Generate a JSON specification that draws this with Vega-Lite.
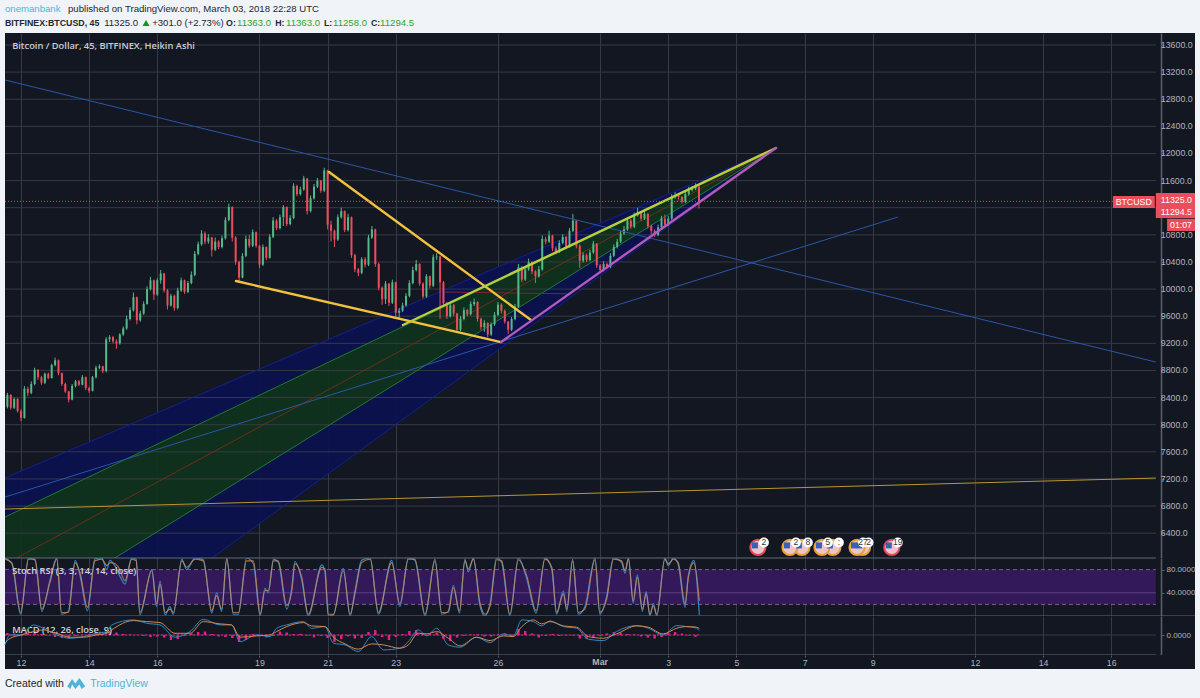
{
"$schema":"https://vega.github.io/schema/vega-lite/v6.json",
"background":"#f0f3f7",
"padding":{"left":3,"right":7,"top":0,"bottom":0},
"spacing":0,
"bounds":"flush",
"resolve":{"scale":{"color":"independent","stroke":"independent"}},
"config":{"view":{"stroke":null},"font":"Liberation Sans","axis":{"labelFont":"Liberation Sans"}},
"datasets":{
"header":[
{"text":"onemanbank","role":"author","line":"publisher","d":11.53},
{"text":"published on TradingView.com, March 03, 2018 22:28 UTC","role":"meta","line":"publisher","d":13.38},
{"text":"BITFINEX:BTCUSD, 45","role":"label","line":"quote","d":11.53},
{"text":"11325.0","role":"meta","line":"quote","d":14.44},
{"text":"+301.0 (+2.73%)","role":"meta","line":"quote","d":15.85},
{"text":"O:","role":"label","line":"quote","d":18.02},
{"text":"11363.0","role":"up","line":"quote","d":18.34},
{"text":"H:","role":"label","line":"quote","d":19.46},
{"text":"11363.0","role":"up","line":"quote","d":19.78},
{"text":"L:","role":"label","line":"quote","d":20.89},
{"text":"11258.0","role":"up","line":"quote","d":21.16},
{"text":"C:","role":"label","line":"quote","d":22.27},
{"text":"11294.5","role":"up","line":"quote","d":22.54}
],
"arrow":[{"line":"quote","d":15.67}],
"bands":[
{"band":"upper","d":11.53,"hi":7213,"lo":6638},{"band":"upper","d":34.16,"hi":12081,"lo":12081},
{"band":"middle","d":11.53,"hi":6638,"lo":5030},{"band":"middle","d":34.16,"hi":12081,"lo":12081},
{"band":"lower","d":11.53,"hi":5030,"lo":3813},{"band":"lower","d":34.16,"hi":12081,"lo":12081}
],
"pricegrid":[{"p":6400,"from":11.53,"to":45.31},{"p":6800,"from":11.53,"to":45.31},{"p":7200,"from":11.53,"to":45.31},{"p":7600,"from":11.53,"to":45.31},{"p":8000,"from":11.53,"to":45.31},{"p":8400,"from":11.53,"to":45.31},{"p":8800,"from":11.53,"to":45.31},{"p":9200,"from":11.53,"to":45.31},{"p":9600,"from":11.53,"to":45.31},{"p":10000,"from":11.53,"to":45.31},{"p":10400,"from":11.53,"to":45.31},{"p":10800,"from":11.53,"to":45.31},{"p":11200,"from":11.53,"to":45.31},{"p":11600,"from":11.53,"to":45.31},{"p":12000,"from":11.53,"to":45.31},{"p":12400,"from":11.53,"to":45.31},{"p":12800,"from":11.53,"to":45.31},{"p":13200,"from":11.53,"to":45.31},{"p":13600,"from":11.53,"to":45.31}],
"trend":[
{"name":"fan blue","d0":11.53,"p0":7213,"d1":34.16,"p1":12081},
{"name":"fan blue","d0":11.53,"p0":3813,"d1":34.16,"p1":12081},
{"name":"fan green","d0":11.53,"p0":6638,"d1":34.16,"p1":12081},
{"name":"fan green","d0":11.53,"p0":5030,"d1":34.16,"p1":12081},
{"name":"median","d0":11.53,"p0":5940,"d1":34.16,"p1":12081},
{"name":"dark red","d0":24.44,"p0":9957,"d1":28.03,"p1":9930},
{"name":"long blue","d0":11.53,"p0":13084,"d1":45.31,"p1":8924},
{"name":"long blue","d0":11.53,"p0":6933,"d1":37.74,"p1":11063},
{"name":"thin yellow","d0":11.53,"p0":6756,"d1":45.31,"p1":7213},
{"name":"wedge","d0":21.04,"p0":11727,"d1":26.97,"p1":9544},
{"name":"wedge","d0":18.31,"p0":10119,"d1":26.09,"p1":9219},
{"name":"lime","d0":23.21,"p0":9470,"d1":34.16,"p1":12081},
{"name":"purple","d0":26.09,"p0":9219,"d1":34.16,"p1":12081}
],
"candles":[
{"d":11.6,"o":8265,"c":8440,"h":8470,"l":8240},{"d":11.7,"o":8440,"c":8250,"h":8450,"l":8220},{"d":11.8,"o":8250,"c":8380,"h":8400,"l":8230},{"d":11.9,"o":8380,"c":8200,"h":8390,"l":8180},
{"d":12.0,"o":8200,"c":8100,"h":8230,"l":8050},{"d":12.1,"o":8100,"c":8530,"h":8570,"l":8090},{"d":12.2,"o":8530,"c":8470,"h":8560,"l":8420},{"d":12.3,"o":8470,"c":8600,"h":8640,"l":8450},
{"d":12.4,"o":8600,"c":8810,"h":8840,"l":8580},{"d":12.5,"o":8810,"c":8700,"h":8820,"l":8660},{"d":12.6,"o":8700,"c":8620,"h":8720,"l":8590},{"d":12.7,"o":8620,"c":8750,"h":8770,"l":8600},
{"d":12.8,"o":8750,"c":8690,"h":8770,"l":8670},{"d":12.9,"o":8690,"c":8880,"h":8900,"l":8680},{"d":13.0,"o":8880,"c":8950,"h":8990,"l":8860},{"d":13.1,"o":8950,"c":8760,"h":8960,"l":8730},
{"d":13.2,"o":8760,"c":8600,"h":8770,"l":8570},{"d":13.3,"o":8600,"c":8490,"h":8620,"l":8470},{"d":13.4,"o":8490,"c":8370,"h":8500,"l":8330},{"d":13.5,"o":8370,"c":8570,"h":8600,"l":8360},
{"d":13.6,"o":8570,"c":8640,"h":8660,"l":8550},{"d":13.7,"o":8640,"c":8590,"h":8660,"l":8570},{"d":13.8,"o":8590,"c":8700,"h":8730,"l":8580},{"d":13.9,"o":8700,"c":8540,"h":8710,"l":8510},
{"d":14.0,"o":8540,"c":8500,"h":8560,"l":8470},{"d":14.1,"o":8500,"c":8700,"h":8720,"l":8490},{"d":14.2,"o":8700,"c":8840,"h":8870,"l":8680},{"d":14.3,"o":8840,"c":8860,"h":8890,"l":8820},
{"d":14.4,"o":8860,"c":8790,"h":8870,"l":8760},{"d":14.5,"o":8790,"c":9260,"h":9290,"l":8770},{"d":14.6,"o":9260,"c":9290,"h":9320,"l":9220},{"d":14.7,"o":9290,"c":9230,"h":9310,"l":9200},
{"d":14.8,"o":9230,"c":9200,"h":9260,"l":9120},{"d":14.9,"o":9200,"c":9330,"h":9350,"l":9180},{"d":15.0,"o":9330,"c":9420,"h":9450,"l":9310},{"d":15.1,"o":9420,"c":9560,"h":9610,"l":9400},
{"d":15.2,"o":9560,"c":9690,"h":9730,"l":9540},{"d":15.3,"o":9690,"c":9880,"h":9950,"l":9670},{"d":15.4,"o":9880,"c":9540,"h":9890,"l":9480},{"d":15.5,"o":9540,"c":9640,"h":9680,"l":9520},
{"d":15.6,"o":9640,"c":9780,"h":9820,"l":9620},{"d":15.7,"o":9780,"c":10000,"h":10040,"l":9770},{"d":15.8,"o":10000,"c":10130,"h":10180,"l":9980},{"d":15.9,"o":10130,"c":9920,"h":10140,"l":9840},
{"d":16.0,"o":9920,"c":10130,"h":10160,"l":9900},{"d":16.1,"o":10130,"c":10230,"h":10280,"l":10080},{"d":16.2,"o":10230,"c":9980,"h":10240,"l":9950},{"d":16.3,"o":9980,"c":9760,"h":10000,"l":9700},
{"d":16.4,"o":9760,"c":9900,"h":9930,"l":9740},{"d":16.5,"o":9900,"c":9720,"h":9920,"l":9680},{"d":16.6,"o":9720,"c":9980,"h":10020,"l":9700},{"d":16.7,"o":9980,"c":10130,"h":10170,"l":9960},
{"d":16.8,"o":10130,"c":9960,"h":10140,"l":9930},{"d":16.9,"o":9960,"c":10090,"h":10120,"l":9940},{"d":17.0,"o":10090,"c":10210,"h":10260,"l":10070},{"d":17.1,"o":10210,"c":10520,"h":10560,"l":10190},
{"d":17.2,"o":10520,"c":10660,"h":10700,"l":10500},{"d":17.3,"o":10660,"c":10820,"h":10870,"l":10640},{"d":17.4,"o":10820,"c":10700,"h":10850,"l":10660},{"d":17.5,"o":10700,"c":10760,"h":10810,"l":10670},
{"d":17.6,"o":10760,"c":10580,"h":10770,"l":10480},{"d":17.7,"o":10580,"c":10700,"h":10760,"l":10560},{"d":17.8,"o":10700,"c":10620,"h":10720,"l":10590},{"d":17.9,"o":10620,"c":10750,"h":10790,"l":10600},
{"d":18.0,"o":10750,"c":11020,"h":11060,"l":10730},{"d":18.1,"o":11020,"c":11210,"h":11260,"l":11000},{"d":18.2,"o":11210,"c":10760,"h":11220,"l":10700},{"d":18.3,"o":10760,"c":10400,"h":10780,"l":10360},
{"d":18.4,"o":10400,"c":10170,"h":10420,"l":10120},{"d":18.5,"o":10170,"c":10490,"h":10530,"l":10160},{"d":18.6,"o":10490,"c":10740,"h":10790,"l":10470},{"d":18.7,"o":10740,"c":10640,"h":10800,"l":10610},
{"d":18.8,"o":10640,"c":10840,"h":10880,"l":10620},{"d":18.9,"o":10840,"c":10640,"h":10850,"l":10610},{"d":19.0,"o":10640,"c":10360,"h":10650,"l":10310},{"d":19.1,"o":10360,"c":10620,"h":10660,"l":10340},
{"d":19.2,"o":10620,"c":10460,"h":10630,"l":10430},{"d":19.3,"o":10460,"c":10770,"h":10810,"l":10450},{"d":19.4,"o":10770,"c":11010,"h":11060,"l":10750},{"d":19.5,"o":11010,"c":10900,"h":11030,"l":10870},
{"d":19.6,"o":10900,"c":11060,"h":11100,"l":10880},{"d":19.7,"o":11060,"c":11210,"h":11240,"l":10930},{"d":19.8,"o":11210,"c":10960,"h":11220,"l":10930},{"d":19.9,"o":10960,"c":11050,"h":11090,"l":10940},
{"d":20.0,"o":11050,"c":11520,"h":11560,"l":11030},{"d":20.1,"o":11520,"c":11400,"h":11540,"l":11370},{"d":20.2,"o":11400,"c":11470,"h":11510,"l":11380},{"d":20.3,"o":11470,"c":11630,"h":11670,"l":11450},
{"d":20.4,"o":11630,"c":11150,"h":11640,"l":11100},{"d":20.5,"o":11150,"c":11340,"h":11380,"l":11130},{"d":20.6,"o":11340,"c":11510,"h":11550,"l":11320},{"d":20.7,"o":11510,"c":11600,"h":11640,"l":11490},
{"d":20.8,"o":11600,"c":11450,"h":11610,"l":11420},{"d":20.9,"o":11450,"c":11750,"h":11790,"l":11430},{"d":21.0,"o":11750,"c":10950,"h":11760,"l":10880},{"d":21.1,"o":10950,"c":10860,"h":11010,"l":10700},
{"d":21.2,"o":10860,"c":10730,"h":10880,"l":10620},{"d":21.3,"o":10730,"c":11060,"h":11100,"l":10710},{"d":21.4,"o":11060,"c":11150,"h":11200,"l":11040},{"d":21.5,"o":11150,"c":10870,"h":11160,"l":10840},
{"d":21.6,"o":10870,"c":11060,"h":11110,"l":10850},{"d":21.7,"o":11060,"c":10500,"h":11070,"l":10460},{"d":21.8,"o":10500,"c":10290,"h":10520,"l":10250},{"d":21.9,"o":10290,"c":10240,"h":10310,"l":10190},
{"d":22.0,"o":10240,"c":10440,"h":10470,"l":10220},{"d":22.1,"o":10440,"c":10360,"h":10470,"l":10320},{"d":22.2,"o":10360,"c":10760,"h":10800,"l":10340},{"d":22.3,"o":10760,"c":10880,"h":10930,"l":10740},
{"d":22.4,"o":10880,"c":10370,"h":10890,"l":10330},{"d":22.5,"o":10370,"c":10020,"h":10390,"l":9980},{"d":22.6,"o":10020,"c":9850,"h":10040,"l":9770},{"d":22.7,"o":9850,"c":10080,"h":10120,"l":9780},
{"d":22.8,"o":10080,"c":9800,"h":10090,"l":9750},{"d":22.9,"o":9800,"c":10100,"h":10140,"l":9780},{"d":23.0,"o":10100,"c":9650,"h":10110,"l":9590},{"d":23.1,"o":9650,"c":9680,"h":9720,"l":9560},
{"d":23.2,"o":9680,"c":9760,"h":9800,"l":9660},{"d":23.3,"o":9760,"c":9900,"h":9940,"l":9740},{"d":23.4,"o":9900,"c":10090,"h":10130,"l":9880},{"d":23.5,"o":10090,"c":10280,"h":10330,"l":10070},
{"d":23.6,"o":10280,"c":10370,"h":10430,"l":10260},{"d":23.7,"o":10370,"c":10080,"h":10380,"l":10050},{"d":23.8,"o":10080,"c":9890,"h":10100,"l":9860},{"d":23.9,"o":9890,"c":10190,"h":10220,"l":9870},
{"d":24.0,"o":10190,"c":10050,"h":10200,"l":10010},{"d":24.1,"o":10050,"c":10470,"h":10510,"l":10030},{"d":24.2,"o":10470,"c":10480,"h":10530,"l":10430},{"d":24.3,"o":10480,"c":10100,"h":10490,"l":9560},
{"d":24.4,"o":10100,"c":9790,"h":10120,"l":9740},{"d":24.5,"o":9790,"c":9600,"h":9810,"l":9560},{"d":24.6,"o":9600,"c":9760,"h":9800,"l":9580},{"d":24.7,"o":9760,"c":9640,"h":9780,"l":9600},
{"d":24.8,"o":9640,"c":9400,"h":9650,"l":9370},{"d":24.9,"o":9400,"c":9560,"h":9600,"l":9380},{"d":25.0,"o":9560,"c":9690,"h":9730,"l":9540},{"d":25.1,"o":9690,"c":9630,"h":9710,"l":9600},
{"d":25.2,"o":9630,"c":9780,"h":9820,"l":9610},{"d":25.3,"o":9780,"c":9810,"h":9860,"l":9750},{"d":25.4,"o":9810,"c":9560,"h":9820,"l":9520},{"d":25.5,"o":9560,"c":9440,"h":9580,"l":9400},
{"d":25.6,"o":9440,"c":9500,"h":9540,"l":9370},{"d":25.7,"o":9500,"c":9330,"h":9510,"l":9290},{"d":25.8,"o":9330,"c":9480,"h":9510,"l":9310},{"d":25.9,"o":9480,"c":9620,"h":9660,"l":9460},
{"d":26.0,"o":9620,"c":9770,"h":9810,"l":9600},{"d":26.1,"o":9770,"c":9680,"h":9790,"l":9640},{"d":26.2,"o":9680,"c":9520,"h":9700,"l":9490},{"d":26.3,"o":9520,"c":9400,"h":9530,"l":9340},
{"d":26.4,"o":9400,"c":9560,"h":9590,"l":9380},{"d":26.5,"o":9560,"c":9740,"h":9780,"l":9540},{"d":26.6,"o":9740,"c":10320,"h":10370,"l":9720},{"d":26.7,"o":10320,"c":10140,"h":10340,"l":10100},
{"d":26.8,"o":10140,"c":10290,"h":10330,"l":10120},{"d":26.9,"o":10290,"c":10400,"h":10450,"l":10270},{"d":27.0,"o":10400,"c":10260,"h":10410,"l":10220},{"d":27.1,"o":10260,"c":10190,"h":10280,"l":10090},
{"d":27.2,"o":10190,"c":10290,"h":10340,"l":10170},{"d":27.3,"o":10290,"c":10740,"h":10790,"l":10270},{"d":27.4,"o":10740,"c":10700,"h":10770,"l":10660},{"d":27.5,"o":10700,"c":10790,"h":10860,"l":10680},
{"d":27.6,"o":10790,"c":10600,"h":10800,"l":10560},{"d":27.7,"o":10600,"c":10550,"h":10630,"l":10510},{"d":27.8,"o":10550,"c":10680,"h":10720,"l":10530},{"d":27.9,"o":10680,"c":10770,"h":10810,"l":10660},
{"d":28.0,"o":10770,"c":10630,"h":10780,"l":10590},{"d":28.1,"o":10630,"c":10860,"h":10900,"l":10610},{"d":28.2,"o":10860,"c":11010,"h":11110,"l":10840},{"d":28.3,"o":11010,"c":10640,"h":11020,"l":10600},
{"d":28.4,"o":10640,"c":10420,"h":10660,"l":10310},{"d":28.5,"o":10420,"c":10500,"h":10540,"l":10390},{"d":28.6,"o":10500,"c":10430,"h":10520,"l":10400},{"d":28.7,"o":10430,"c":10540,"h":10580,"l":10410},
{"d":28.8,"o":10540,"c":10670,"h":10710,"l":10520},{"d":28.9,"o":10670,"c":10350,"h":10680,"l":10310},{"d":29.0,"o":10350,"c":10280,"h":10370,"l":10230},{"d":29.1,"o":10280,"c":10370,"h":10410,"l":10260},
{"d":29.2,"o":10370,"c":10330,"h":10390,"l":10300},{"d":29.3,"o":10330,"c":10490,"h":10530,"l":10310},{"d":29.4,"o":10490,"c":10620,"h":10660,"l":10470},{"d":29.5,"o":10620,"c":10700,"h":10740,"l":10600},
{"d":29.6,"o":10700,"c":10820,"h":10860,"l":10680},{"d":29.7,"o":10820,"c":10880,"h":10930,"l":10800},{"d":29.8,"o":10880,"c":11010,"h":11060,"l":10860},{"d":29.9,"o":11010,"c":10920,"h":11030,"l":10890},
{"d":30.0,"o":10920,"c":11090,"h":11130,"l":10900},{"d":30.1,"o":11090,"c":11140,"h":11200,"l":11070},{"d":30.2,"o":11140,"c":11040,"h":11150,"l":11010},{"d":30.3,"o":11040,"c":11110,"h":11160,"l":11020},
{"d":30.4,"o":11110,"c":10930,"h":11120,"l":10890},{"d":30.5,"o":10930,"c":10860,"h":10950,"l":10810},{"d":30.6,"o":10860,"c":10800,"h":10880,"l":10770},{"d":30.7,"o":10800,"c":10910,"h":10950,"l":10780},
{"d":30.8,"o":10910,"c":11040,"h":11080,"l":10890},{"d":30.9,"o":11040,"c":10950,"h":11100,"l":10920},{"d":31.0,"o":10950,"c":11040,"h":11080,"l":10930},{"d":31.1,"o":11040,"c":11360,"h":11400,"l":11020},
{"d":31.2,"o":11360,"c":11380,"h":11430,"l":11330},{"d":31.3,"o":11380,"c":11360,"h":11410,"l":11320},{"d":31.4,"o":11360,"c":11290,"h":11370,"l":11260},{"d":31.5,"o":11290,"c":11400,"h":11440,"l":11270},
{"d":31.6,"o":11400,"c":11460,"h":11510,"l":11380},{"d":31.7,"o":11460,"c":11480,"h":11520,"l":11440},{"d":31.8,"o":11480,"c":11510,"h":11560,"l":11460},{"d":31.9,"o":11510,"c":11290,"h":11520,"l":11190}
],
"lastprice":[{"p":11294.5,"from":11.53,"to":44.05}],
"tags":[
{"text":"BTCUSD","from":44.05,"to":45.28,"hi":11373,"lo":11196,"at":11285},
{"text":"11325.0","from":45.31,"to":46.46,"hi":11417,"lo":11225,"at":11321},
{"text":"11294.5","from":45.31,"to":46.46,"hi":11225,"lo":11048,"at":11137},
{"text":"01:07","from":45.64,"to":46.46,"hi":11038,"lo":10857,"at":10948}
],
"pricetitle":[{"text":"Bitcoin / Dollar, 45, BITFINEX, Heikin Ashi","d":11.74,"p":13585}],
"events":[
{"d":33.63,"p":6190,"impact":"high","n":"2"},
{"d":34.92,"p":6190,"impact":"medium","n":"8"},
{"d":34.57,"p":6190,"impact":"medium","n":"2"},
{"d":35.83,"p":6190,"impact":"medium","n":":"},
{"d":35.51,"p":6190,"impact":"medium","n":"5"},
{"d":36.7,"p":6190,"impact":"medium","n":"2"},
{"d":36.54,"p":6190,"impact":"medium","n":"27"},
{"d":37.56,"p":6190,"impact":"high","n":"19"}
],
"stochband":[{"lo":20,"hi":80,"from":11.53,"to":45.31}],
"stochlevels":[{"v":80,"kind":"limit","from":11.53,"to":45.31},{"v":40,"kind":"mid","from":11.53,"to":45.31},{"v":20,"kind":"limit","from":11.53,"to":45.31}],
"stochframe":[{"v":100,"from":11.53,"to":45.31},{"v":0,"from":11.53,"to":46.46}],
"stochtitle":[{"text":"Stoch RSI (3, 3, 14, 14, close)","d":11.74,"v":78}],
"stoch":[
{"d":11.53,"k":100,"s":98},{"d":11.73,"k":90,"s":92},{"d":11.99,"k":3,"s":6},{"d":12.22,"k":100,"s":98},{"d":12.41,"k":96,"s":98},{"d":12.61,"k":8,"s":12},{"d":12.85,"k":62,"s":58},{"d":13.05,"k":100,"s":98},{"d":13.19,"k":3,"s":6},{"d":13.39,"k":8,"s":6},{"d":13.59,"k":96,"s":92},{"d":13.73,"k":70,"s":75},{"d":13.95,"k":9,"s":15},{"d":14.17,"k":99,"s":95},{"d":14.37,"k":100,"s":98},{"d":14.52,"k":80,"s":87},{"d":14.61,"k":96,"s":92},{"d":14.76,"k":86,"s":90},{"d":14.89,"k":70,"s":81},{"d":15.05,"k":55,"s":61},{"d":15.25,"k":100,"s":98},{"d":15.38,"k":98,"s":95},{"d":15.49,"k":2,"s":6},{"d":15.84,"k":80,"s":78},{"d":15.98,"k":16,"s":21},{"d":16.08,"k":60,"s":55},{"d":16.23,"k":2,"s":6},{"d":16.37,"k":16,"s":12},{"d":16.47,"k":3,"s":6},{"d":16.72,"k":98,"s":95},{"d":16.86,"k":80,"s":84},{"d":17.11,"k":100,"s":98},{"d":17.35,"k":97,"s":95},{"d":17.6,"k":5,"s":9},{"d":17.74,"k":40,"s":35},{"d":17.89,"k":8,"s":12},{"d":18.04,"k":100,"s":98},{"d":18.23,"k":3,"s":6},{"d":18.38,"k":3,"s":6},{"d":18.62,"k":100,"s":95},{"d":18.82,"k":90,"s":95},{"d":19.02,"k":0,"s":3},{"d":19.16,"k":48,"s":44},{"d":19.26,"k":40,"s":44},{"d":19.41,"k":98,"s":95},{"d":19.55,"k":93,"s":95},{"d":19.8,"k":12,"s":18},{"d":19.95,"k":50,"s":44},{"d":20.04,"k":94,"s":90},{"d":20.24,"k":62,"s":67},{"d":20.43,"k":0,"s":3},{"d":20.83,"k":88,"s":84},{"d":20.92,"k":76,"s":81},{"d":21.02,"k":0,"s":3},{"d":21.17,"k":2,"s":3},{"d":21.46,"k":82,"s":78},{"d":21.66,"k":0,"s":3},{"d":21.8,"k":42,"s":38},{"d":22.0,"k":96,"s":92},{"d":22.25,"k":100,"s":98},{"d":22.49,"k":3,"s":6},{"d":22.88,"k":96,"s":92},{"d":23.12,"k":16,"s":21},
{"d":23.37,"k":100,"s":98},{"d":23.56,"k":96,"s":98},{"d":23.86,"k":0,"s":3},{"d":24.15,"k":98,"s":95},{"d":24.35,"k":3,"s":6},{"d":24.54,"k":8,"s":6},{"d":24.69,"k":53,"s":49},{"d":24.87,"k":5,"s":9},{"d":25.03,"k":98,"s":95},{"d":25.13,"k":76,"s":81},{"d":25.28,"k":100,"s":98},{"d":25.47,"k":18,"s":23},{"d":25.62,"k":0,"s":3},{"d":25.77,"k":22,"s":18},{"d":25.96,"k":100,"s":97},{"d":26.11,"k":92,"s":95},{"d":26.35,"k":0,"s":3},{"d":26.6,"k":100,"s":97},{"d":26.84,"k":65,"s":70},{"d":27.12,"k":5,"s":9},{"d":27.38,"k":100,"s":98},{"d":27.58,"k":80,"s":84},{"d":27.72,"k":3,"s":6},{"d":27.92,"k":43,"s":38},{"d":28.02,"k":8,"s":12},{"d":28.19,"k":98,"s":95},{"d":28.36,"k":3,"s":6},{"d":28.55,"k":16,"s":12},{"d":28.85,"k":100,"s":97},{"d":28.99,"k":3,"s":6},{"d":29.19,"k":34,"s":29},{"d":29.39,"k":100,"s":98},{"d":29.63,"k":92,"s":95},{"d":29.73,"k":74,"s":78},{"d":29.83,"k":100,"s":98},{"d":29.97,"k":22,"s":26},{"d":30.09,"k":71,"s":67},{"d":30.24,"k":8,"s":12},{"d":30.35,"k":42,"s":38},{"d":30.46,"k":0,"s":3},{"d":30.56,"k":22,"s":18},{"d":30.66,"k":0,"s":3},{"d":30.9,"k":100,"s":98},{"d":31.0,"k":87,"s":90},{"d":31.15,"k":100,"s":98},{"d":31.29,"k":89,"s":92},{"d":31.49,"k":15,"s":21},{"d":31.59,"k":71,"s":67},{"d":31.75,"k":96,"s":92},{"d":31.91,"k":2,"s":26}
],
"macdrules":[{"v":0,"kind":"zero","from":11.53,"to":45.31},{"v":0,"kind":"hist","from":11.53,"to":31.9},{"v":-200,"kind":"frame","from":11.53,"to":45.31}],
"macdtitle":[{"text":"MACD (12, 26, close, 9)","d":11.74,"v":50}],
"macd":[
{"d":11.53,"m":-100,"g":-82},{"d":11.68,"m":1,"g":-33},{"d":12.02,"m":1,"g":1},{"d":12.36,"m":100,"g":34},{"d":12.66,"m":67,"g":51},{"d":12.85,"m":34,"g":34},{"d":13.05,"m":1,"g":17},{"d":13.44,"m":-32,"g":-22},{"d":13.83,"m":-16,"g":-22},{"d":14.22,"m":17,"g":1},{"d":14.52,"m":34,"g":17},{"d":14.66,"m":101,"g":51},{"d":15.3,"m":151,"g":144},{"d":15.69,"m":117,"g":134},{"d":16.08,"m":101,"g":124},{"d":16.52,"m":-22,"g":17},{"d":16.96,"m":34,"g":17},{"d":17.35,"m":157,"g":134},{"d":17.84,"m":101,"g":111},{"d":18.18,"m":101,"g":101},{"d":18.43,"m":-66,"g":-22},{"d":18.92,"m":1,"g":-9},{"d":19.31,"m":-16,"g":1},{"d":19.5,"m":67,"g":34},{"d":19.8,"m":101,"g":84},{"d":20.29,"m":134,"g":124},{"d":20.53,"m":67,"g":91},{"d":20.92,"m":84,"g":84},{"d":21.17,"m":-82,"g":-22},{"d":21.51,"m":-99,"g":-89},{"d":21.9,"m":-166,"g":-142},{"d":22.29,"m":-16,"g":-89},{"d":22.64,"m":-149,"g":-99},{"d":23.12,"m":-132,"g":-132},
{"d":23.37,"m":-66,"g":-99},{"d":23.66,"m":51,"g":18},{"d":23.91,"m":-9,"g":11},{"d":24.2,"m":68,"g":34},{"d":24.54,"m":-99,"g":-32},{"d":24.89,"m":-122,"g":-109},{"d":25.37,"m":-22,"g":-22},{"d":25.77,"m":-76,"g":-56},{"d":26.16,"m":11,"g":-9},{"d":26.45,"m":-9,"g":-16},{"d":26.7,"m":151,"g":84},{"d":27.04,"m":134,"g":151},{"d":27.28,"m":91,"g":111},{"d":27.53,"m":141,"g":134},{"d":27.92,"m":84,"g":91},{"d":28.31,"m":68,"g":78},{"d":28.65,"m":-42,"g":-16},{"d":29.09,"m":-56,"g":-32},{"d":29.48,"m":34,"g":11},{"d":30.07,"m":94,"g":91},{"d":30.41,"m":68,"g":78},{"d":30.85,"m":1,"g":11},{"d":31.25,"m":94,"g":68},{"d":31.54,"m":84,"g":84},{"d":31.83,"m":68,"g":78},{"d":31.91,"m":44,"g":64}
],
"hist":[
{"d":11.6,"h":20},{"d":11.8,"h":15},{"d":12.0,"h":2},{"d":12.2,"h":15},{"d":12.4,"h":25},{"d":12.6,"h":10},{"d":12.8,"h":-3},{"d":13.0,"h":-20},{"d":13.2,"h":-30},{"d":13.4,"h":-35},{"d":13.6,"h":-10},{"d":13.8,"h":3},{"d":14.0,"h":10},{"d":14.2,"h":12},{"d":14.4,"h":15},{"d":14.6,"h":30},{"d":14.8,"h":25},{"d":15.0,"h":10},{"d":15.2,"h":5},{"d":15.4,"h":2},{"d":15.6,"h":-8},{"d":15.8,"h":-20},{"d":16.0,"h":-15},{"d":16.2,"h":-25},{"d":16.4,"h":-50},{"d":16.6,"h":-40},{"d":16.8,"h":-10},{"d":17.0,"h":15},{"d":17.2,"h":30},{"d":17.4,"h":35},{"d":17.6,"h":10},{"d":17.8,"h":-15},{"d":18.0,"h":-20},{"d":18.2,"h":-30},{"d":18.4,"h":-70},{"d":18.6,"h":-50},{"d":18.8,"h":10},{"d":19.0,"h":-8},{"d":19.2,"h":-25},{"d":19.4,"h":-10},{"d":19.6,"h":35},{"d":19.8,"h":25},{"d":20.0,"h":10},{"d":20.2,"h":12},{"d":20.4,"h":-5},{"d":20.6,"h":-25},{"d":20.8,"h":-10},{"d":21.0,"h":-30},{"d":21.2,"h":-70},{"d":21.4,"h":-40},{"d":21.6,"h":-15},{"d":21.8,"h":-35},{"d":22.0,"h":-30},{"d":22.2,"h":30},{"d":22.4,"h":50},{"d":22.6,"h":-20},{"d":22.8,"h":-50},{"d":23.0,"h":-20},{"d":23.2,"h":10},{"d":23.4,"h":40},{"d":23.6,"h":50},{"d":23.8,"h":15},{"d":24.0,"h":10},{"d":24.2,"h":25},{"d":24.4,"h":-40},{"d":24.6,"h":-60},{"d":24.8,"h":-25},{"d":25.0,"h":-8},{"d":25.2,"h":5},{"d":25.4,"h":10},{"d":25.6,"h":-15},{"d":25.8,"h":-15},{"d":26.0,"h":5},{"d":26.2,"h":15},{"d":26.4,"h":5},{"d":26.6,"h":60},{"d":26.8,"h":40},{"d":27.0,"h":15},{"d":27.2,"h":-25},{"d":27.4,"h":-10},{"d":27.6,"h":10},{"d":27.8,"h":-10},{"d":28.0,"h":-5},{"d":28.2,"h":-5},{"d":28.4,"h":-35},{"d":28.6,"h":-40},{"d":28.8,"h":-25},{"d":29.0,"h":-10},{"d":29.2,"h":15},{"d":29.4,"h":30},{"d":29.6,"h":25},{"d":29.8,"h":10},{"d":30.0,"h":5},{"d":30.2,"h":-15},{"d":30.4,"h":-25},{"d":30.6,"h":-35},{"d":30.8,"h":-20},{"d":31.0,"h":20},{"d":31.2,"h":30},{"d":31.4,"h":15},{"d":31.6,"h":-5},{"d":31.8,"h":-18}
],
"ticks":[{"d":29,"text":"Mar"}],
"footer":[
{"text":"Created with","role":"meta","d":11.53},
{"text":"TradingView","role":"brand","d":14.03}
],
"logo":[{"d":13.62}]
},
"vconcat":[
{
"width":1190,"height":33,
"layer":[
{"data":{"name":"header"},"transform":[{"filter":"datum.role!='label'"}],"mark":{"type":"text","align":"left","baseline":"middle","fontSize":9.6},
"encoding":{
"x":{"field":"d","type":"quantitative","scale":{"domain":[11.53,46.46],"nice":false,"zero":false},"axis":null},
"y":{"field":"line","type":"nominal","scale":{"type":"point","domain":["publisher","quote"],"range":[9,23],"padding":0},"axis":null},
"text":{"field":"text","type":"nominal"},
"color":{"field":"role","type":"nominal","scale":{"domain":["author","meta","up"],"range":["#4db5d8","#222631","#2fa52f"]},"legend":null}}},
{"data":{"name":"header"},"transform":[{"filter":"datum.role=='label'"}],"mark":{"type":"text","align":"left","baseline":"middle","fontSize":8.8,"fontWeight":"bold","color":"#222631"},
"encoding":{"x":{"field":"d","type":"quantitative"},"y":{"field":"line","type":"nominal"},"text":{"field":"text","type":"nominal"}}},
{"data":{"name":"arrow"},"mark":{"type":"point","shape":"triangle-up","filled":true,"size":50,"color":"#0a9a1e","opacity":1},
"encoding":{"x":{"field":"d","type":"quantitative"},"y":{"field":"line","type":"nominal"}}}
]
},
{
"width":1190,"height":525,
"view":{"fill":"#131722"},
"layer":[
{"data":{"name":"bands"},"mark":{"type":"area","clip":true,"opacity":0.9},
"encoding":{
"x":{"field":"d","type":"quantitative","scale":{"domain":[11.53,46.46],"nice":false,"zero":false,"padding":0},
"axis":{"orient":"bottom","values":[12,14,16,19,21,23,26,29,31,33,35,37,40,42,44],"grid":true,"gridColor":"#363a45","gridWidth":1,"labels":false,"ticks":false,"domain":false,"title":null}},
"y":{"field":"hi","type":"quantitative","scale":{"domain":[6034,13777],"nice":false,"zero":false},
"axis":{"orient":"right","offset":-34,"values":[6400,6800,7200,7600,8000,8400,8800,9200,9600,10000,10400,10800,11200,11600,12000,12400,12800,13200,13600],"labels":false,"grid":false,"title":null,"tickSize":3,"tickColor":"#5d606b","domainColor":"#5d606b","domainWidth":1.5}},
"y2":{"field":"lo"},
"color":{"field":"band","type":"nominal","scale":{"domain":["upper","middle","lower"],"range":["#0a1150","#0f331c","#0a1150"]},"legend":null}}},
{"data":{"name":"pricegrid"},"mark":{"type":"rule","color":"#363a45","strokeWidth":1},
"encoding":{"x":{"field":"from","type":"quantitative"},"x2":{"field":"to"},"y":{"field":"p","type":"quantitative"}}},
{"data":{"name":"pricegrid"},"transform":[{"filter":"datum.p!=11200"}],"mark":{"type":"text","align":"left","baseline":"middle","dx":5,"fontSize":8.8,"color":"#b2b5be"},
"encoding":{"x":{"field":"to","type":"quantitative"},"y":{"field":"p","type":"quantitative"},"text":{"field":"p","type":"quantitative","format":".1f"}}},
{"data":{"name":"trend"},"transform":[{"filter":"datum.name=='fan blue'||datum.name=='fan green'||datum.name=='median'||datum.name=='dark red'"}],"mark":{"type":"rule","clip":true,"strokeWidth":1},
"encoding":{"x":{"field":"d0","type":"quantitative"},"x2":{"field":"d1"},"y":{"field":"p0","type":"quantitative"},"y2":{"field":"p1"},
"stroke":{"field":"name","type":"nominal","scale":{"domain":["fan blue","fan green","median","dark red","long blue","thin yellow","wedge","lime","purple","high","medium"],"range":["#16208c","#1c7a35","#6f2c1c","#7d2335","#2a56a8","#b8962e","#f2c23e","#b9d03a","#b45ab8","#e5485a","#e8a030"]},"legend":null}}},
{"data":{"name":"candles"},"mark":{"type":"rule","strokeWidth":1},
"encoding":{"x":{"field":"d","type":"quantitative"},"y":{"field":"l","type":"quantitative"},"y2":{"field":"h"},
"color":{"condition":{"test":"datum.c>=datum.o","value":"#53b987"},"value":"#eb4d5c"}}},
{"data":{"name":"candles"},"mark":{"type":"bar","size":2},
"encoding":{"x":{"field":"d","type":"quantitative"},"y":{"field":"o","type":"quantitative"},"y2":{"field":"c"},
"color":{"condition":{"test":"datum.c>=datum.o","value":"#53b987"},"value":"#eb4d5c"}}},
{"data":{"name":"trend"},"transform":[{"filter":"datum.name=='long blue'||datum.name=='thin yellow'"}],"mark":{"type":"rule","clip":true,"strokeWidth":1},
"encoding":{"x":{"field":"d0","type":"quantitative"},"x2":{"field":"d1"},"y":{"field":"p0","type":"quantitative"},"y2":{"field":"p1"},
"stroke":{"field":"name","type":"nominal","legend":null}}},
{"data":{"name":"trend"},"transform":[{"filter":"datum.name=='wedge'||datum.name=='lime'||datum.name=='purple'"}],"mark":{"type":"rule","strokeWidth":2.4,"strokeCap":"round"},
"encoding":{"x":{"field":"d0","type":"quantitative"},"x2":{"field":"d1"},"y":{"field":"p0","type":"quantitative"},"y2":{"field":"p1"},
"stroke":{"field":"name","type":"nominal","legend":null}}},
{"data":{"name":"lastprice"},"mark":{"type":"rule","color":"#eb4d5c","strokeWidth":1,"strokeDash":[1,2]},
"encoding":{"x":{"field":"from","type":"quantitative"},"x2":{"field":"to"},"y":{"field":"p","type":"quantitative"}}},
{"data":{"name":"tags"},"mark":{"type":"rect","color":"#eb4d5c"},
"encoding":{"x":{"field":"from","type":"quantitative"},"x2":{"field":"to"},"y":{"field":"hi","type":"quantitative"},"y2":{"field":"lo"}}},
{"data":{"name":"tags"},"mark":{"type":"text","align":"right","baseline":"middle","dx":-3,"fontSize":8.8,"color":"#ffffff"},
"encoding":{"x":{"field":"to","type":"quantitative"},"y":{"field":"at","type":"quantitative"},"text":{"field":"text","type":"nominal"}}},
{"data":{"name":"pricetitle"},"mark":{"type":"text","align":"left","baseline":"middle","font":"Open Sans","fontSize":9.3,"fontWeight":600,"color":"#c8ccd6"},
"encoding":{"x":{"field":"d","type":"quantitative"},"y":{"field":"p","type":"quantitative"},"text":{"field":"text","type":"nominal"}}},
{"data":{"name":"events"},"mark":{"type":"point","shape":"circle","filled":true,"size":230,"fill":"#eec4cc","strokeWidth":2,"opacity":1},
"encoding":{"x":{"field":"d","type":"quantitative"},"y":{"field":"p","type":"quantitative"},
"stroke":{"field":"impact","type":"nominal","legend":null}}},
{"data":{"name":"events"},"mark":{"type":"point","shape":"square","filled":true,"size":36,"color":"#3c5fb0","opacity":1,"xOffset":-3,"yOffset":-2},
"encoding":{"x":{"field":"d","type":"quantitative"},"y":{"field":"p","type":"quantitative"}}},
{"data":{"name":"events"},"mark":{"type":"point","shape":"circle","filled":true,"size":100,"color":"#ffffff","opacity":1,"xOffset":6,"yOffset":-5},
"encoding":{"x":{"field":"d","type":"quantitative"},"y":{"field":"p","type":"quantitative"}}},
{"data":{"name":"events"},"mark":{"type":"text","align":"center","baseline":"middle","fontSize":8.5,"color":"#333333","dx":6,"dy":-5},
"encoding":{"x":{"field":"d","type":"quantitative"},"y":{"field":"p","type":"quantitative"},"text":{"field":"n","type":"nominal"}}}
]
},
{
"width":1190,"height":58,
"view":{"fill":"#131722"},
"layer":[
{"data":{"name":"stochband"},"mark":{"type":"rect","color":"#33195a"},
"encoding":{
"x":{"field":"from","type":"quantitative","scale":{"domain":[11.53,46.46],"nice":false,"zero":false,"padding":0},
"axis":{"orient":"bottom","values":[12,14,16,19,21,23,26,29,31,33,35,37,40,42,44],"grid":true,"gridColor":"#363a45","labels":false,"ticks":false,"domain":false,"title":null}},
"x2":{"field":"to"},
"y":{"field":"lo","type":"quantitative","scale":{"domain":[0,100],"nice":false},
"axis":{"orient":"right","offset":-34,"values":[40,80],"format":".4f","grid":false,"title":null,"labelColor":"#b2b5be","labelFontSize":8,"labelPadding":2,"tickSize":3,"tickColor":"#5d606b","domainColor":"#5d606b","domainWidth":1.5}},
"y2":{"field":"hi"}}},
{"data":{"name":"stochlevels"},"transform":[{"filter":"datum.kind=='limit'"}],"mark":{"type":"rule","color":"#7a5f8c","strokeWidth":1,"strokeDash":[4,3]},
"encoding":{"x":{"field":"from","type":"quantitative"},"x2":{"field":"to"},"y":{"field":"v","type":"quantitative"}}},
{"data":{"name":"stochlevels"},"transform":[{"filter":"datum.kind=='mid'"}],"mark":{"type":"rule","color":"#5b3f80","strokeWidth":1},
"encoding":{"x":{"field":"from","type":"quantitative"},"x2":{"field":"to"},"y":{"field":"v","type":"quantitative"}}},
{"data":{"name":"stoch"},"mark":{"type":"line","color":"#2f86c8","strokeWidth":1.2,"clip":true,"interpolate":"monotone"},
"encoding":{"x":{"field":"d","type":"quantitative"},"y":{"field":"k","type":"quantitative"}}},
{"data":{"name":"stoch"},"mark":{"type":"line","color":"#c98a5a","strokeWidth":1.2,"opacity":0.8,"clip":true,"interpolate":"monotone"},
"encoding":{"x":{"field":"d","type":"quantitative"},"y":{"field":"s","type":"quantitative"}}},
{"data":{"name":"stochtitle"},"mark":{"type":"text","align":"left","baseline":"middle","font":"Open Sans","fontSize":9.3,"fontWeight":600,"color":"#d0d3da"},
"encoding":{"x":{"field":"d","type":"quantitative"},"y":{"field":"v","type":"quantitative"},"text":{"field":"text","type":"nominal"}}},
{"data":{"name":"stochframe"},"mark":{"type":"rule","color":"#666a75","strokeWidth":1},
"encoding":{"x":{"field":"from","type":"quantitative"},"x2":{"field":"to"},"y":{"field":"v","type":"quantitative"}}}
]
},
{
"width":1190,"height":39,
"view":{"fill":"#131722"},
"layer":[
{"data":{"name":"macdrules"},"transform":[{"filter":"datum.kind=='zero'"}],"mark":{"type":"rule","color":"#363a45","strokeWidth":1},
"encoding":{
"x":{"field":"from","type":"quantitative","scale":{"domain":[11.53,46.46],"nice":false,"zero":false,"padding":0},
"axis":{"orient":"bottom","values":[12,14,16,19,21,23,26,29,31,33,35,37,40,42,44],"grid":true,"gridColor":"#363a45","labels":false,"ticks":false,"domain":false,"title":null}},
"x2":{"field":"to"},
"y":{"field":"v","type":"quantitative","scale":{"domain":[-200,190],"nice":false,"zero":false},
"axis":{"orient":"right","offset":-34,"values":[0],"format":".4f","grid":false,"title":null,"labelColor":"#b2b5be","labelFontSize":8,"labelPadding":2,"tickSize":3,"tickColor":"#5d606b","domainColor":"#5d606b","domainWidth":1.5}}}},
{"data":{"name":"macdrules"},"transform":[{"filter":"datum.kind=='hist'"}],"mark":{"type":"rule","color":"#e91e8c","strokeWidth":1,"strokeDash":[2,2]},
"encoding":{"x":{"field":"from","type":"quantitative"},"x2":{"field":"to"},"y":{"field":"v","type":"quantitative"}}},
{"data":{"name":"hist"},"mark":{"type":"bar","color":"#e91e8c","size":2.4},
"encoding":{"x":{"field":"d","type":"quantitative"},"y":{"field":"h","type":"quantitative"}}},
{"data":{"name":"macdtitle"},"mark":{"type":"text","align":"left","baseline":"middle","font":"Open Sans","fontSize":9.3,"fontWeight":600,"color":"#d0d3da"},
"encoding":{"x":{"field":"d","type":"quantitative"},"y":{"field":"v","type":"quantitative"},"text":{"field":"text","type":"nominal"}}},
{"data":{"name":"macd"},"mark":{"type":"line","color":"#2f86c8","strokeWidth":1,"interpolate":"monotone"},
"encoding":{"x":{"field":"d","type":"quantitative"},"y":{"field":"m","type":"quantitative"}}},
{"data":{"name":"macd"},"mark":{"type":"line","color":"#d08a4a","strokeWidth":1,"interpolate":"monotone"},
"encoding":{"x":{"field":"d","type":"quantitative"},"y":{"field":"g","type":"quantitative"}}},
{"data":{"name":"macdrules"},"transform":[{"filter":"datum.kind=='frame'"}],"mark":{"type":"rule","color":"#666a75","strokeWidth":1},
"encoding":{"x":{"field":"from","type":"quantitative"},"x2":{"field":"to"},"y":{"field":"v","type":"quantitative"}}}
]
},
{
"width":1190,"height":14,
"view":{"fill":"#131722"},
"data":{"name":"ticks"},
"mark":{"type":"text","fontSize":8.8,"fontWeight":"bold","color":"#b2b5be","baseline":"middle"},
"encoding":{
"x":{"field":"d","type":"quantitative","scale":{"domain":[11.53,46.46],"nice":false,"zero":false},
"axis":{"orient":"bottom","offset":-14,"values":[12,14,16,19,21,23,26,29,31,33,35,37,40,42,44],"labelExpr":"datum.value==29?'':datum.value>29?''+(datum.value-28):''+datum.value","labelColor":"#b2b5be","labelFontSize":8.8,"labelPadding":1,"tickSize":2,"tickColor":"#5d606b","domain":false,"grid":false,"title":null}},
"text":{"field":"text","type":"nominal"}
}
},
{
"width":1190,"height":29,
"layer":[
{"data":{"name":"footer"},"mark":{"type":"text","align":"left","baseline":"middle","fontSize":10.5},
"encoding":{
"x":{"field":"d","type":"quantitative","scale":{"domain":[11.53,46.46],"nice":false,"zero":false},"axis":null},
"text":{"field":"text","type":"nominal"},
"color":{"field":"role","type":"nominal","scale":{"domain":["meta","brand"],"range":["#222631","#4db5d8"]},"legend":null}}},
{"data":{"name":"logo"},"mark":{"type":"point","filled":true,"opacity":1,"size":324,"color":"#4db5d8","shape":"M-1,0.3L-0.45,-0.5L-0.1,0L0.35,-0.6L1,0.3L0.6,0.6L0.35,0.1L-0.1,0.6L-0.45,0.1L-0.65,0.6Z"},
"encoding":{"x":{"field":"d","type":"quantitative"}}}
]
}
]
}
